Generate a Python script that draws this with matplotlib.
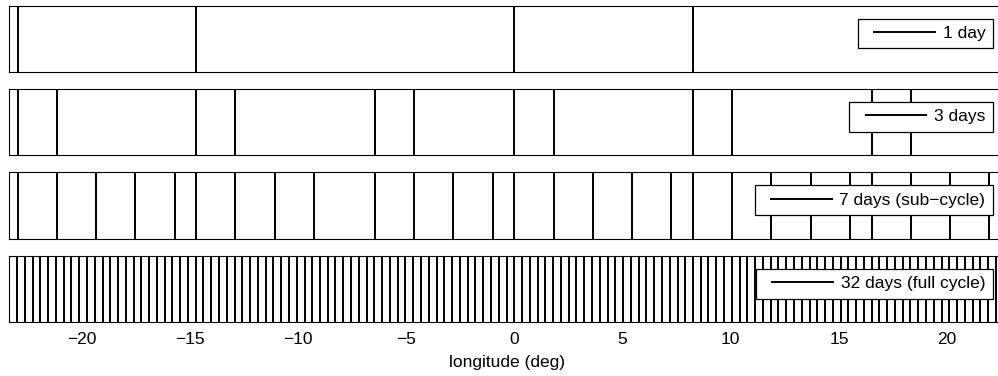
import matplotlib
matplotlib.use("Agg")
import matplotlib.pyplot as plt
from matplotlib.legend_handler import HandlerLineCollection
from matplotlib.collections import LineCollection

plt.rcParams['font.family'] = ['Liberation Sans', 'DejaVu Sans']

# ground track longitudes (deg) crossing the window, by repeat period
tracks_1day = [-22.95, -14.69, 0.0, 8.25]

tracks_3day = [-22.95, -21.13, -14.69, -12.88, -6.42, -4.62,
               0.0, 1.82, 8.25, 10.06, 16.51, 18.31]

tracks_7day = [-22.95, -21.13, -19.32, -17.50, -15.69, -14.69, -12.88,
               -11.07, -9.25, -6.42, -4.62, -2.81, -1.00,
               0.0, 1.82, 3.63, 5.45, 7.26, 8.25, 10.06, 11.88, 13.70,
               15.51, 16.51, 18.31, 20.13, 21.93]

tracks_32day = [-23.33, -22.97, -22.61, -22.25, -21.89, -21.53, -21.18, -20.82,
                -20.46, -20.10, -19.74, -19.38, -19.02, -18.66, -18.30, -17.95,
                -17.59, -17.23, -16.87, -16.51, -16.15, -15.79, -15.43, -15.07,
                -14.72, -14.36, -14.00, -13.64, -13.28, -12.92, -12.56, -12.20,
                -11.84, -11.49, -11.13, -10.77, -10.41, -10.05, -9.69, -9.33,
                -8.97, -8.61, -8.26, -7.90, -7.54, -7.18, -6.82, -6.46,
                -6.10, -5.74, -5.38, -5.03, -4.67, -4.31, -3.95, -3.59,
                -3.23, -2.87, -2.51, -2.15, -1.80, -1.44, -1.08, -0.72,
                -0.36, 0.0, 0.36, 0.72, 1.08, 1.44, 1.79, 2.15,
                2.51, 2.87, 3.23, 3.59, 3.95, 4.31, 4.67, 5.02,
                5.38, 5.74, 6.10, 6.46, 6.82, 7.18, 7.54, 7.90,
                8.25, 8.61, 8.97, 9.33, 9.69, 10.05, 10.41, 10.77,
                11.13, 11.48, 11.84, 12.20, 12.56, 12.92, 13.28, 13.64,
                14.00, 14.36, 14.72, 15.07, 15.43, 15.79, 16.15, 16.51,
                16.87, 17.23, 17.59, 17.95, 18.30, 18.66, 19.02, 19.38,
                19.74, 20.10, 20.46, 20.82, 21.18, 21.53, 21.89, 22.25]

labels = ['1 day', '3 days', '7 days (sub\u2212cycle)', '32 days (full cycle)']
all_tracks = [tracks_1day, tracks_3day, tracks_7day, tracks_32day]

fs = 12.5
fig = plt.figure(figsize=(9.98, 3.76), dpi=100)

bottoms = [0.8085, 0.587, 0.3652, 0.1428]
for i in range(4):
    ax = fig.add_axes([0.0093, bottoms[i], 0.9984, 0.1765])
    ax.vlines(all_tracks[i], 0, 1, colors='black', linewidth=1.4,
              label=labels[i])
    ax.set_xlim(-23.33, 22.70)
    ax.set_ylim(0, 1)
    ax.set_yticks([])
    for s in ax.spines.values():
        s.set_linewidth(0.8)
    leg = ax.legend(loc='upper right', bbox_to_anchor=(1.0, 1.0),
                    borderaxespad=0.75, fontsize=fs, fancybox=False,
                    framealpha=1, edgecolor='black', borderpad=0.42,
                    handlelength=4.05, handletextpad=0.4,
                    handler_map={LineCollection: HandlerLineCollection(xpad=0.45)})
    leg.get_frame().set_linewidth(0.9)
    if i < 3:
        ax.set_xticks([])
    else:
        ax.set_xticks([-20, -15, -10, -5, 0, 5, 10, 15, 20])
        ax.tick_params(axis='x', length=0, pad=7, labelsize=fs)
        ax.set_xlabel('longitude (deg)', fontsize=fs, labelpad=6)

fig.savefig('out.png', dpi=100)
